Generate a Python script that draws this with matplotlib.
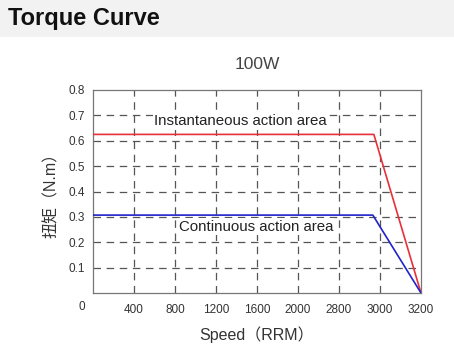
import numpy as np
import matplotlib
matplotlib.use('Agg')
import matplotlib.pyplot as plt
from matplotlib.patches import Rectangle

plt.rcParams['font.family'] = ['Liberation Sans', 'Noto Sans CJK SC', 'DejaVu Sans']

# Tick labels on the speed axis (evenly spaced on the chart, uneven in value)
speed_ticks = [0, 400, 800, 1200, 1600, 2000, 2800, 3000, 3200]
torque_ticks = [0.1, 0.2, 0.3, 0.4, 0.5, 0.6, 0.7, 0.8]

# Curves: speed (rpm) and torque (N.m)
inst_speed = [0, 2970, 3200]
inst_torque = [0.625, 0.625, 0.0]
cont_speed = [0, 2965, 3200]
cont_torque = [0.307, 0.307, 0.0]

def to_pos(speed):
    # map speed values onto the tick index positions used by the chart
    return np.interp(speed, speed_ticks, np.arange(len(speed_ticks)))

fig = plt.figure(figsize=(4.54, 3.57), dpi=100)

# gray header band
fig.patches.append(Rectangle((0, 1 - 37 / 357), 1, 37 / 357, transform=fig.transFigure,
                             facecolor='#f2f2f2', edgecolor='none', zorder=0))
fig.text(8 / 454, 1 - 19 / 357, 'Torque Curve', fontsize=17, fontweight='bold',
         va='center', ha='left', color='#111111')

ax = fig.add_axes([93 / 454, 1 - 293 / 357, 328 / 454, 203 / 357])

grid_kw = dict(color='#555555', lw=0.9, ls=(0, (6, 4.5)), zorder=1)
for p in range(1, len(speed_ticks) - 1):
    ax.axvline(p, **grid_kw)
for t in torque_ticks[:-1]:
    ax.axhline(t, **grid_kw)

ax.plot(to_pos(inst_speed), inst_torque, color='#e8303a', lw=1.2, zorder=3)
ax.plot(to_pos(cont_speed), cont_torque, color='#2222cc', lw=1.2, zorder=3)

box = dict(facecolor='white', edgecolor='none', pad=1)
ax.text(3.6, 0.677, 'Instantaneous action area', fontsize=10.8, ha='center', va='center',
        color='#222222', zorder=4, bbox=box)
ax.text(3.97, 0.262, 'Continuous action area', fontsize=10.8, ha='center', va='center',
        color='#222222', zorder=4, bbox=box)

ax.set_xlim(0, len(speed_ticks) - 1)
ax.set_ylim(0, 0.8)
ax.set_xticks(np.arange(1, len(speed_ticks)))
ax.set_xticklabels([str(s) for s in speed_ticks[1:]])
ax.set_yticks(torque_ticks)
ax.set_yticklabels([f'{t:.1f}' for t in torque_ticks])
ax.tick_params(axis='both', length=0, labelsize=8.5, colors='#333333')
ax.tick_params(axis='x', pad=8)
ax.tick_params(axis='y', pad=6)
for s in ax.spines.values():
    s.set_color('#777777')
    s.set_linewidth(0.9)

# shared origin label
ax.text(-0.27, -0.055, '0', fontsize=8.5, color='#333333', ha='center', va='center')

ax.set_title('100W', fontsize=12.5, color='#444444', pad=15)
ax.set_xlabel('Speed（RRM）', fontsize=11.5, color='#333333', labelpad=7)
ax.set_ylabel('扭矩（N.m）', fontsize=11.5, color='#333333', labelpad=7)

fig.savefig('out.png', dpi=100)
